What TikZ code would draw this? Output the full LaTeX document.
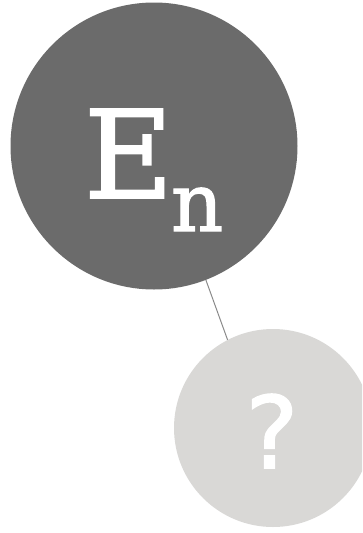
\documentclass[tikz,border=0pt]{standalone}
\usepackage{fontspec}
\newfontfamily\slabfont[FakeBold=1.6]{DejaVu Serif}
\newfontfamily\qfont[FakeBold=1.4]{DejaVu Sans}
\definecolor{darkc}{HTML}{6B6B6B}
\definecolor{lightc}{HTML}{D9D8D6}
\definecolor{linkc}{HTML}{8A8A8A}
\begin{document}
\begin{tikzpicture}[x=1pt,y=-1pt,
  bubble/.style={circle,inner sep=0pt,draw=none},
  glyph/.style={text=white,inner sep=0pt,outer sep=0pt}]
\useasboundingbox (0,0) rectangle (362,533);
\begin{scope}
\clip (0,0) rectangle (362,533);
\coordinate (l1) at (203,272);
\coordinate (l2) at (228,341);
\draw[linkc,line width=1pt] (l1) -- (l2);
\node[bubble,fill=darkc,minimum size=287pt] (big) at (154,146) {};
\node[bubble,fill=lightc,minimum size=198pt] (small) at (273,428) {};
\node[glyph,anchor=base west] (en) at (84,198) {\slabfont\fontsize{122}{122}\selectfont E\kern-2pt\raisebox{-33pt}{\fontsize{81}{81}\selectfont n}};
\node[glyph] (q) at (272,431) {\qfont\fontsize{100}{100}\selectfont ?};
\end{scope}
\end{tikzpicture}
\end{document}
